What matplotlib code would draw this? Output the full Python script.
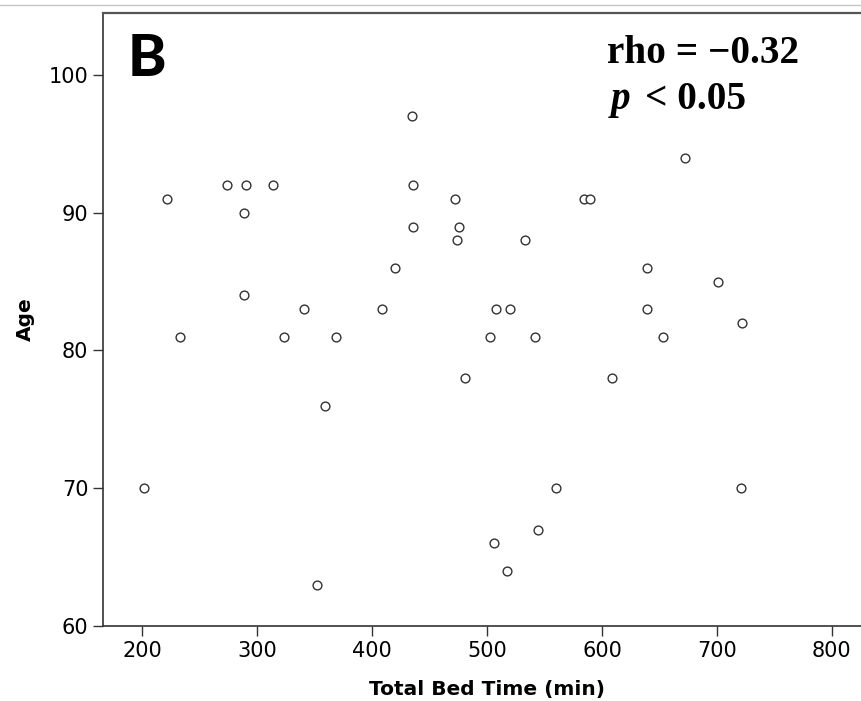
#!/usr/bin/env python3
"""Scatter of age vs total bed time (panel B), with Spearman annotation."""
import matplotlib
matplotlib.use('Agg')
import matplotlib.pyplot as plt
from matplotlib.lines import Line2D

PNG_OUT = 'out.png'

BED_TIME = [202, 222, 233, 274, 290, 289, 289, 314, 323, 341, 369, 359,
            352, 409, 420, 435, 436, 436, 472, 476, 474, 481, 503, 508,
            520, 506, 517, 533, 542, 544, 560, 584, 590, 609, 639, 639,
            653, 672, 701, 721, 722]
AGE = [70, 91, 81, 92, 92, 90, 84, 92, 81, 83, 81, 76,
       63, 83, 86, 97, 92, 89, 91, 89, 88, 78, 81, 83,
       83, 66, 64, 88, 81, 67, 70, 91, 91, 78, 86, 83,
       81, 94, 85, 70, 82]
X_TICKS = [200, 300, 400, 500, 600, 700, 800]
Y_TICKS = [60, 70, 80, 90, 100]

W, H = 861, 701
EDGE = '#333333'


def px(x, y):
    """pixel position (top-left origin) -> figure fraction"""
    return x / W, 1 - y / H


def main():
    fig = plt.figure(figsize=(W / 100, H / 100), dpi=100)
    # axes runs a bit past the right edge of the picture, like the original crop
    ax = fig.add_axes([103 / W, 1 - 626 / H, 768 / W, 613 / H])

    ax.scatter(BED_TIME, AGE, s=40, facecolors='white', edgecolors=EDGE,
               linewidths=1.0, zorder=3)

    ax.set_xlim(166, 834)
    ax.set_ylim(60, 104.5)
    ax.set_xticks(X_TICKS)
    ax.set_yticks(Y_TICKS)
    ax.tick_params(direction='out', length=7.5, width=1.0, color=EDGE,
                   labelsize=15, pad=3)

    for side in ['left', 'bottom']:
        ax.spines[side].set_color(EDGE)
        ax.spines[side].set_linewidth(1.2)
    ax.spines['top'].set_color('#555555')
    ax.spines['top'].set_linewidth(1.6)
    ax.spines['right'].set_visible(False)

    ax.set_xlabel('Total Bed Time (min)', fontsize=14.5, fontweight='bold')
    ax.xaxis.set_label_coords(0.5, -0.088)
    ax.set_ylabel('Age', fontsize=14.5, fontweight='bold')
    ax.yaxis.label.set_va('center')
    ax.yaxis.set_label_coords(-0.1016, 0.5)

    # thin gray rule above the panel
    fig.add_artist(Line2D([0, 1], [1 - 5 / H] * 2, color='#c4c4c4', lw=1.0))

    # panel letter
    fig.text(*px(128, 76), 'B', family='Lato', fontweight=900, fontsize=42,
             ha='left', va='baseline')

    # stats annotation
    fig.text(*px(607, 63), 'rho = \u22120.32', family='Liberation Serif',
             fontweight='bold', fontsize=28.3, ha='left', va='baseline')
    fig.text(*px(611, 109), 'p', family='Liberation Serif', fontweight='bold',
             fontstyle='italic', fontsize=28.3, ha='left', va='baseline')
    fig.text(*px(645, 109), '< 0.05', family='Liberation Serif',
             fontweight='bold', fontsize=28.3, ha='left', va='baseline')

    fig.savefig(PNG_OUT, dpi=100)


if __name__ == '__main__':
    main()
